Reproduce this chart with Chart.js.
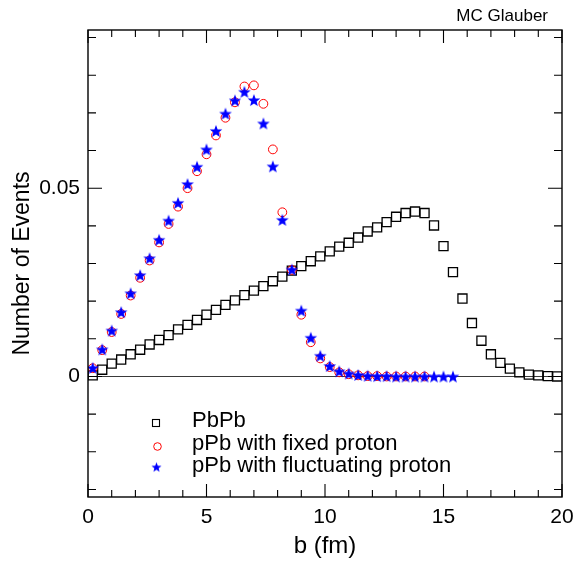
<!DOCTYPE html>
<html>
<head>
<meta charset="utf-8">
<script src="https://cdn.jsdelivr.net/npm/chart.js@4.4.0/dist/chart.umd.min.js"></script>
<style>
html,body{margin:0;padding:0;background:#fff;}
#wrap{width:577px;height:565px;position:relative;}
</style>
</head>
<body>
<div id="wrap"><canvas id="c" width="577" height="565"></canvas></div>
<script>
// ---------------- data ----------------
const bPbPb = [0.2,0.6,1.0,1.4,1.8,2.2,2.6,3.0,3.4,3.8,4.2,4.6,5.0,5.4,5.8,6.2,6.6,7.0,7.4,7.8,
               8.2,8.6,9.0,9.4,9.8,10.2,10.6,11.0,11.4,11.8,12.2,12.6,13.0,13.4,13.8,14.2,14.6,15.0,15.4,15.8,
               16.2,16.6,17.0,17.4,17.8,18.2,18.6,19.0,19.4,19.8];
const nPbPb = [0.0003,0.0018,0.0034,0.0045,0.0059,0.0071,0.0085,0.0097,0.0110,0.0125,
               0.0137,0.0150,0.0164,0.0177,0.0190,0.0202,0.0216,0.0228,0.0240,0.0253,
               0.0265,0.0281,0.0293,0.0306,0.0319,0.0332,0.0345,0.0355,0.0369,0.0385,
               0.0396,0.0410,0.0424,0.0434,0.0438,0.0434,0.0401,0.0346,0.0277,0.0207,
               0.0142,0.0095,0.0059,0.0036,0.0021,0.0011,0.0005,0.0003,0.0001,0.0000];

const bFixed = [0.2,0.6,1.0,1.4,1.8,2.2,2.6,3.0,3.4,3.8,4.2,4.6,5.0,5.4,5.8,6.2,6.6,7.0,7.4,7.8,
                8.2,8.6,9.0,9.4,9.8,10.2,10.6,11.0,11.4,11.8,12.2,12.6,13.0,13.4,13.8,14.2];
const nFixed = [0.0022,0.0070,0.0118,0.0166,0.0215,0.0262,0.0308,0.0356,0.0405,0.0451,
                0.0500,0.0545,0.0590,0.0640,0.0687,0.0728,0.0770,0.0773,0.0724,0.0603,
                0.0436,0.0283,0.0164,0.0091,0.0048,0.0025,0.0011,0.0006,0.0003,0.0001,
                0.0001,0.0000,0.0000,0.0000,0.0000,0.0000];

const bFluct = [0.2,0.6,1.0,1.4,1.8,2.2,2.6,3.0,3.4,3.8,4.2,4.6,5.0,5.4,5.8,6.2,6.6,7.0,7.4,7.8,
                8.2,8.6,9.0,9.4,9.8,10.2,10.6,11.0,11.4,11.8,12.2,12.6,13.0,13.4,13.8,14.2,14.6,15.0,15.4];
const nFluct = [0.0023,0.0072,0.0122,0.0171,0.0221,0.0269,0.0314,0.0363,0.0414,0.0461,
                0.0511,0.0557,0.0603,0.0652,0.0698,0.0733,0.0756,0.0734,0.0672,0.0558,
                0.0416,0.0284,0.0175,0.0103,0.0055,0.0028,0.0014,0.0008,0.0004,0.0002,
                0.0001,0.0001,0.0000,0.0000,0.0000,0.0000,0.0000,0.0000,0.0000];

const seriesLabels = ['PbPb', 'pPb with fixed proton', 'pPb with fluctuating proton'];

const xTickValues = [0,1,2,3,4,5,6,7,8,9,10,11,12,13,14,15,16,17,18,19,20];
const xTickText   = ['0','','','','','5','','','','','10','','','','','15','','','','','20'];
const yTickValues = [-0.03,-0.02,-0.01,0,0.01,0.02,0.03,0.04,0.05,0.06,0.07,0.08,0.09];
const yTickText   = ['','','','0','','','','','0.05','','','',''];

const xTitle = 'b (fm)';
const yTitle = 'Number of Events';
const cornerText = 'MC Glauber';
const zeroLineValue = 0;

// ---------------- styling helpers ----------------
const FONT = '"Liberation Sans", Arial, Helvetica, sans-serif';

function makeStar(R, color) {
  const s = Math.ceil(R * 2 + 2);
  const c = document.createElement('canvas');
  c.width = s; c.height = s;
  const g = c.getContext('2d');
  const cx = s / 2, cy = s / 2 + R * 0.1;
  g.beginPath();
  for (let i = 0; i < 10; i++) {
    const r = (i % 2) ? R * 0.42 : R;
    const a = -Math.PI / 2 + i * Math.PI / 5;
    g.lineTo(cx + r * Math.cos(a), cy + r * Math.sin(a));
  }
  g.closePath();
  g.fillStyle = color;
  g.fill();
  return c;
}
const starPlot = makeStar(6.6, '#0000ff');
const starLegend = makeStar(5.3, '#0000ff');

const toPts = (xs, ys) => xs.map((x, i) => ({x: x, y: ys[i]}));

// ---------------- plugin: frame, inward ticks, zero line, legend, corner text ----------------
const framePlugin = {
  id: 'frameTicks',
  beforeDatasetsDraw(chart) {
    const {ctx, chartArea: a, scales: {y}} = chart;
    const y0 = y.getPixelForValue(zeroLineValue);
    ctx.save();
    ctx.strokeStyle = '#3a3a3a';
    ctx.lineWidth = 1.2;
    ctx.beginPath();
    ctx.moveTo(a.left, y0);
    ctx.lineTo(a.right, y0);
    ctx.stroke();
    ctx.restore();
  },
  afterDraw(chart) {
    const {ctx, chartArea: a, scales: {x, y}} = chart;
    ctx.save();
    ctx.strokeStyle = '#000';
    ctx.lineWidth = 1.4;
    ctx.strokeRect(a.left, a.top, a.right - a.left, a.bottom - a.top);
    ctx.lineWidth = 1.1;
    ctx.beginPath();
    xTickValues.forEach((v, i) => {
      const px = x.getPixelForValue(v);
      const len = xTickText[i] !== '' ? 13 : 7;
      ctx.moveTo(px, a.bottom); ctx.lineTo(px, a.bottom - len);
      ctx.moveTo(px, a.top); ctx.lineTo(px, a.top + len);
    });
    yTickValues.forEach((v, i) => {
      const py = y.getPixelForValue(v);
      const len = yTickText[i] !== '' ? 14 : 8;
      ctx.moveTo(a.left, py); ctx.lineTo(a.left + len, py);
      ctx.moveTo(a.right, py); ctx.lineTo(a.right - len, py);
    });
    ctx.stroke();

    // legend
    const ds = chart.data.datasets;
    const lx = 156, tx = 192;
    const rows = [421, 443.5, 466];
    ctx.font = '22px ' + FONT;
    ctx.fillStyle = '#000';
    ctx.textBaseline = 'middle';
    ctx.textAlign = 'left';
    ctx.strokeStyle = ds[0].borderColor; ctx.lineWidth = 1.1;
    ctx.strokeRect(lx - 3.5, rows[0] + 2 - 3.5, 7, 7);
    ctx.strokeStyle = ds[1].borderColor; ctx.lineWidth = 1;
    ctx.beginPath(); ctx.arc(lx + 1.5, rows[1] + 3, 3.8, 0, Math.PI * 2); ctx.stroke();
    ctx.drawImage(starLegend, lx + 0.5 - starLegend.width / 2, rows[2] + 1 - starLegend.height / 2);
    ds.forEach((d, i) => ctx.fillText(d.label, tx, rows[i]));

    // corner text
    ctx.font = '17px ' + FONT;
    ctx.textAlign = 'right';
    ctx.textBaseline = 'middle';
    ctx.fillText(cornerText, 548, 16);
    ctx.restore();
  }
};

// ---------------- chart ----------------
Chart.defaults.font.family = FONT;
Chart.defaults.color = '#000';

new Chart(document.getElementById('c'), {
  type: 'scatter',
  data: {
    datasets: [
      { label: seriesLabels[0], data: toPts(bPbPb, nPbPb), order: 3,
        pointStyle: 'rect', pointRadius: 6.4, borderColor: '#000', backgroundColor: 'rgba(0,0,0,0)', borderWidth: 1.3 },
      { label: seriesLabels[1], data: toPts(bFixed, nFixed), order: 2,
        pointStyle: 'circle', pointRadius: 4.4, borderColor: '#ff0000', backgroundColor: 'rgba(0,0,0,0)', borderWidth: 1 },
      { label: seriesLabels[2], data: toPts(bFluct, nFluct), order: 1,
        pointStyle: starPlot, pointRadius: 6, borderColor: '#0000ff', backgroundColor: '#0000ff', borderWidth: 0 }
    ]
  },
  options: {
    responsive: false,
    animation: false,
    events: [],
    layout: { padding: { top: 30, right: 15, left: 0, bottom: 0 } },
    plugins: { legend: { display: false }, tooltip: { enabled: false }, title: { display: false } },
    scales: {
      x: {
        type: 'linear', min: 0, max: 20,
        afterBuildTicks: s => { s.ticks = xTickValues.map(v => ({value: v})); },
        afterFit: s => { s.height = 68; s.paddingLeft = 0; s.paddingRight = 0; },
        grid: { display: false, drawTicks: false },
        border: { display: false },
        ticks: { autoSkip: false, maxRotation: 0, padding: 8, font: { size: 21 },
                 callback: (v, i) => xTickText[i] },
        title: { display: true, text: xTitle, font: { size: 24 }, padding: { top: 0, bottom: 4 } }
      },
      y: {
        type: 'linear', min: -0.032, max: 0.092,
        afterBuildTicks: s => { s.ticks = yTickValues.map(v => ({value: v})); },
        afterFit: s => { s.width = 88; s.paddingTop = 0; s.paddingBottom = 0; },
        grid: { display: false, drawTicks: false },
        border: { display: false },
        ticks: { autoSkip: false, padding: 8, font: { size: 21 },
                 callback: (v, i) => yTickText[i] },
        title: { display: true, text: yTitle, font: { size: 23 }, padding: { top: 9, bottom: 0 } }
      }
    }
  },
  plugins: [framePlugin]
});
</script>
</body>
</html>
